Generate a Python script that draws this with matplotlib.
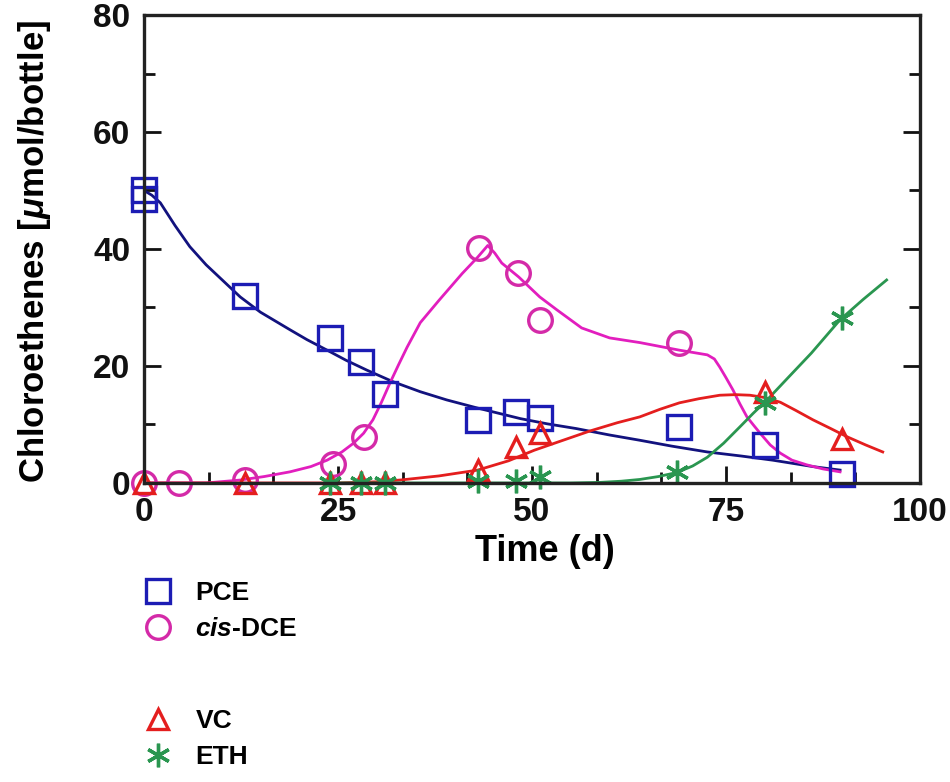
from matplotlib import pyplot as plt
from matplotlib.ticker import MultipleLocator
import numpy as np

plt.rcParams['font.family'] = ['Liberation Sans', 'DejaVu Sans']
plt.rcParams['font.weight'] = 'bold'
plt.rcParams['mathtext.fontset'] = 'custom'
plt.rcParams['mathtext.it'] = 'Liberation Sans:italic:bold'
plt.rcParams['mathtext.rm'] = 'Liberation Sans:bold'

# measured points (time in d, amount in umol/bottle)
pce_t = [0, 0, 13, 24, 28, 31, 43, 48, 51, 69, 80, 90]
pce_v = [50, 48.5, 32, 24.8, 20.7, 15.2, 10.8, 12.2, 11.1, 9.6, 6.5, 1.6]
dce_t = [0, 4.5, 13, 24.4, 28.3, 43.2, 48.2, 51, 69]
dce_v = [0, 0, 0.5, 3.3, 7.9, 40.1, 35.9, 27.9, 23.9]
vc_t = [0, 13, 24, 28, 31, 43, 48, 51, 80, 90]
vc_v = [0, 0, 0, 0, 0, 2.3, 6.1, 8.6, 15.6, 7.6]
eth_t = [24, 28, 31, 43, 48, 51, 68.7, 80, 90]
eth_v = [0, 0, 0, 0.3, 0.3, 1.0, 1.8, 13.6, 28.2]

# fitted model curves
pce_fit_t = [0, 1, 2.1, 4, 5.9, 8, 10, 12.4, 15, 18.8, 21, 23.6, 26, 28.7, 32.1, 35.6, 39, 43, 48.5,
             52, 55.7, 60, 63.9, 68, 72.6, 77, 81, 86.2, 89.7]
pce_fit_v = [50, 49.2, 47.9, 44, 40.4, 37.3, 34.8, 31.8, 29.2, 26.2, 24.5, 22.7, 21, 19.3, 17.3, 15.6, 14.2, 12.8, 11,
             10.1, 9.3, 8.2, 7.3, 6.3, 5.3, 4.6, 3.9, 2.8, 2.2]
dce_fit_t = [0, 8, 12.4, 15.5, 18.8, 21.5, 23.6, 25.5, 27, 28.3, 29.5, 30.6, 31.7, 32.8, 33.9, 35.6, 38, 41, 43, 44.3,
             45.2, 46.1, 48.3, 51, 53.2, 56.4, 60, 63.9, 69, 72.6, 73.5, 74.2, 75, 75.9, 76.8, 77.7, 78.6, 79.4,
             80.7, 82, 83.5, 85.4, 87.5, 89.7]
dce_fit_v = [0, 0, 0.5, 1.1, 1.9, 2.8, 3.9, 5.3, 6.8, 8.5, 10.8, 13.8, 17.1, 20.2, 23.2, 27.4, 31.2, 35.8, 38.6, 40.6,
             39.3, 37.6, 35.2, 31.8, 29.6, 26.5, 24.8, 24.0, 22.7, 21.9, 21.2, 19.8, 18.0, 15.9, 13.5, 11.3, 9.8, 8.5,
             6.5, 5.1, 3.9, 3.1, 2.4, 1.9]
vc_fit_t = [0, 25, 30, 33, 38, 43, 47, 50.3, 54, 57.5, 61, 63.9, 66.5, 69, 71.5, 74.2, 76.2, 78.1, 80, 82,
            84, 86.2, 88.5, 90.6, 93, 95.2]
vc_fit_v = [0, 0, 0.2, 0.5, 1.2, 2.2, 3.8, 5.6, 7.3, 8.9, 10.3, 11.3, 12.6, 13.7, 14.4, 15.0, 15.1, 15.0, 14.6, 13.8,
            12.4, 10.8, 9.3, 7.9, 6.5, 5.3]
eth_fit_t = [24, 50, 55, 58.8, 61.5, 63.9, 66.3, 68.7, 70.7, 72.6, 74.7, 76.8, 78.5, 80.3, 83, 86, 89.7, 92.7, 95.7]
eth_fit_v = [0, 0, 0, 0.1, 0.3, 0.6, 1.1, 1.8, 2.9, 4.4, 6.8, 9.6, 11.9, 14.2, 18.0, 22.2, 27.9, 31.4, 34.7]

blue = '#1c1cb4'
navy = '#12127e'
pink = '#e21ebe'
dce_mk = '#d42aa8'
red = '#e41e1e'
green = '#2a9650'

fig = plt.figure(figsize=(9.5, 7.82), dpi=100)
ax = fig.add_axes([0.1516, 0.3824, 0.8168, 0.5984])

ax.plot(pce_fit_t, pce_fit_v, '-', c=navy, lw=2)
ax.plot(dce_fit_t, dce_fit_v, '-', c=pink, lw=2)
ax.plot(vc_fit_t, vc_fit_v, '-', c=red, lw=2)
ax.plot(eth_fit_t, eth_fit_v, '-', c=green, lw=2)

ms = dict(ls='none', mfc='none', mew=2.4, clip_on=False)
h_pce, = ax.plot(pce_t, pce_v, marker='s', ms=17, mec=blue, label='PCE', **ms)
h_dce, = ax.plot(dce_t, dce_v, marker='o', ms=17, mec=dce_mk, label='$\\mathit{cis}$-DCE', **ms)
h_vc, = ax.plot(vc_t, vc_v, marker='^', ms=14, mec=red, label='VC', **ms)
h_eth, = ax.plot(eth_t, eth_v, marker=(6, 2, 0), ms=17, mec=green, label='ETH', **ms)

ax.set_xlim(0, 100)
ax.set_ylim(0, 80)
ax.xaxis.set_major_locator(MultipleLocator(25))
ax.xaxis.set_minor_locator(MultipleLocator(25 / 3))
ax.yaxis.set_major_locator(MultipleLocator(20))
ax.yaxis.set_minor_locator(MultipleLocator(10))
ax.tick_params(which='both', direction='in', width=2, top=False, right=True, labelsize=24, colors='#111111')
ax.tick_params(which='major', length=12, pad=10)
ax.tick_params(which='minor', length=8)
for s in ax.spines.values():
    s.set_linewidth(2.4)
    s.set_color('#222222')

ax.set_xlabel('Time (d)', fontsize=26, fontweight='bold')
ax.xaxis.set_label_coords(0.517, -0.108)
ax.set_ylabel('Chloroethenes [$\\mathit{\\mu}$mol/bottle]', fontsize=25, fontweight='bold')
ax.yaxis.set_label_coords(-0.117, 0.495)

leg_kw = dict(loc='upper left', frameon=False, fontsize=19, handlelength=1.2, handletextpad=0.8,
              labelspacing=0.45, borderaxespad=0)
fig.legend(handles=[h_pce, h_dce], bbox_to_anchor=(0.139, 0.270), **leg_kw)
fig.legend(handles=[h_vc, h_eth], bbox_to_anchor=(0.139, 0.107), **leg_kw)

plt.savefig('out.png', dpi=100)
